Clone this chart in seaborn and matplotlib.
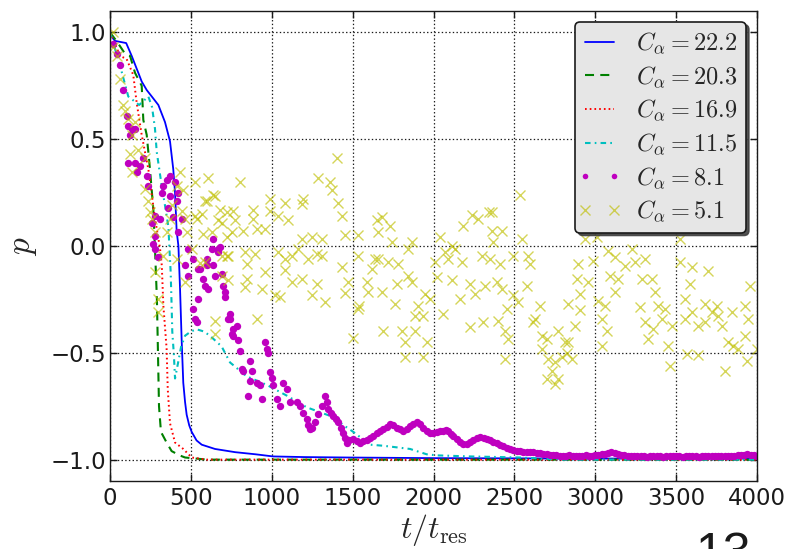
import matplotlib
matplotlib.use("Agg")
import matplotlib.pyplot as plt
from matplotlib.lines import Line2D
from matplotlib.legend_handler import HandlerLine2D
import seaborn as sns
import pandas as pd

# ---------------- data ----------------
labels = [r"$C_\alpha=22.2$", r"$C_\alpha=20.3$", r"$C_\alpha=16.9$",
          r"$C_\alpha=11.5$", r"$C_\alpha=8.1$", r"$C_\alpha=5.1$"]

t_a = [0, 20, 31, 100, 134, 165, 196, 227, 258, 299, 340, 371, 391, 402, 412, 423,
       433, 443, 453, 464, 474, 490, 505, 535, 567, 649, 773, 900, 1008, 1200, 1463,
       2000, 3000, 4000]
p_a = [1.0, 0.97, 0.96, 0.95, 0.89, 0.83, 0.77, 0.73, 0.70, 0.66, 0.58, 0.49, 0.36,
       0.25, 0.07, 0.0, -0.2, -0.44, -0.64, -0.73, -0.79, -0.84, -0.87, -0.91, -0.93,
       -0.95, -0.965, -0.975, -0.985, -0.988, -0.99, -0.993, -0.995, -0.995]

t_b = [0, 40, 93, 124, 155, 196, 206, 227, 247, 268, 278, 290, 295, 303, 315, 350,
       381, 430, 464, 600, 4000]
p_b = [1.0, 0.96, 0.90, 0.89, 0.81, 0.75, 0.59, 0.52, 0.36, 0.17, -0.01, -0.25,
       -0.44, -0.75, -0.87, -0.92, -0.96, -0.98, -0.99, -1.0, -1.0]

t_c = [0, 62, 103, 144, 165, 196, 237, 258, 278, 309, 320, 330, 350, 357, 371, 402,
       453, 505, 600, 4000]
p_c = [1.0, 0.89, 0.875, 0.80, 0.67, 0.52, 0.36, 0.24, 0.13, -0.01, -0.09, -0.28,
       -0.48, -0.67, -0.83, -0.92, -0.95, -0.99, -1.0, -1.0]

t_d = [0, 60, 113, 180, 237, 260, 278, 289, 320, 340, 361, 370, 375, 381, 385, 395,
       402, 420, 440, 464, 500, 536, 580, 618, 690, 742, 845, 969, 1092, 1216, 1360,
       1504, 1607, 1690, 1855, 1958, 2020, 2226, 2535, 2800, 4000]
p_d = [1.0, 0.85, 0.70, 0.66, 0.70, 0.65, 0.55, 0.44, 0.28, 0.19, 0.09, -0.05, -0.12,
       -0.28, -0.40, -0.51, -0.62, -0.55, -0.47, -0.42, -0.40, -0.39, -0.40, -0.42,
       -0.47, -0.545, -0.61, -0.65, -0.70, -0.755, -0.795, -0.87, -0.93, -0.935, -0.95,
       -0.975, -0.98, -0.985, -0.99, -1.0, -1.0]

t_e = [21, 41, 62, 82, 103, 113, 113, 124, 134, 155, 155, 165, 185, 206, 227, 237, 258,
       268, 278, 278, 278, 299, 309, 320, 330, 350, 361, 371, 371, 391, 402, 412, 423,
       423, 443, 464, 484, 484, 515, 515, 525, 536, 546, 546, 556, 577, 587, 598, 598,
       608, 628, 639, 639, 649, 670, 670, 680, 690, 700, 711, 711, 731, 742, 742, 752,
       762, 762, 783, 793, 804, 814, 824, 855, 866, 866, 876, 907, 927, 938, 958, 969,
       979, 989, 999, 1010, 1030, 1051, 1072, 1092, 1113, 1154, 1175, 1195, 1216, 1226,
       1237, 1250, 1267, 1288, 1309, 1329,
       1340, 1350, 1365, 1381, 1395, 1412, 1427, 1442, 1455, 1463, 1480, 1504, 1525,
       1546, 1565, 1587, 1607, 1628, 1649, 1669, 1690, 1710, 1731, 1750, 1772, 1793,
       1814, 1835, 1855, 1875, 1896, 1916, 1937, 1958, 1978, 1999, 2020, 2040, 2061,
       2075, 2092, 2110, 2123, 2145, 2164, 2185, 2205, 2226, 2247, 2268, 2288, 2310,
       2329, 2350, 2370, 2391, 2412, 2432, 2453, 2474, 2494, 2515, 2535, 2556, 2576,
       2597, 2617, 2638, 2660, 2680, 2700, 2720, 2740, 2760, 2780, 2800, 2820, 2840,
       2860, 2880, 2900, 2920, 2940, 2960, 2980, 3000, 3020, 3040, 3060, 3080, 3100,
       3120, 3140, 3160, 3180, 3200, 3220, 3240, 3260, 3280, 3300, 3320, 3340, 3360,
       3380, 3400, 3420, 3440, 3460, 3480, 3500, 3520, 3540, 3560, 3580, 3600, 3620,
       3640, 3660, 3680, 3700, 3720, 3740, 3760, 3780, 3800, 3820, 3840, 3860, 3880,
       3900, 3920, 3940, 3960, 3980, 4000]
p_e = [0.946, 0.90, 0.845, 0.73, 0.61, 0.56, 0.39, 0.52, 0.55, 0.55, 0.39, 0.345, 0.376,
       0.41, 0.33, 0.28, 0.11, 0.01, 0.14, 0.048, -0.014, -0.053, 0.126, 0.25, 0.28,
       0.31, 0.18, 0.33, 0.235, 0.134, 0.30, 0.21, 0.25, 0.064, 0.126, -0.09, -0.014,
       -0.14, -0.06, -0.295, -0.34, -0.357, -0.108, -0.248, -0.108, -0.155, -0.186,
       -0.06, -0.09, -0.20, -0.014, 0.033, -0.09, -0.14, -0.014, -0.03, -0.006, -0.13,
       -0.186, -0.217, -0.24, -0.34, -0.32, -0.34, -0.41, -0.39, -0.42, -0.373, -0.44,
       -0.49, -0.576, -0.584, -0.70, -0.537, -0.63, -0.584, -0.64, -0.65, -0.717, -0.45,
       -0.48, -0.50, -0.59, -0.62, -0.65, -0.717, -0.75, -0.64, -0.67, -0.73, -0.73,
       -0.75, -0.78, -0.81, -0.84, -0.857, -0.85, -0.826, -0.787, -0.75, -0.70,
       -0.73, -0.763, -0.78, -0.795, -0.81, -0.826, -0.85, -0.873, -0.90, -0.92, -0.91,
       -0.904, -0.915, -0.92, -0.915, -0.91, -0.90, -0.888, -0.875, -0.865, -0.857,
       -0.845, -0.834, -0.84, -0.85, -0.857, -0.865, -0.855, -0.842, -0.835, -0.826,
       -0.835, -0.85, -0.865, -0.873, -0.873, -0.87, -0.868, -0.865, -0.86, -0.865,
       -0.878, -0.888, -0.905, -0.918, -0.925, -0.925, -0.918, -0.91, -0.90, -0.896,
       -0.90, -0.904, -0.91, -0.918, -0.924, -0.932, -0.938, -0.945, -0.95, -0.955,
       -0.958, -0.96, -0.962, -0.964, -0.966, -0.966, -0.968, -0.97, -0.972, -0.974,
       -0.976, -0.978, -0.98, -0.982, -0.982, -0.983, -0.98, -0.983, -0.982, -0.984,
       -0.982, -0.98, -0.983, -0.982, -0.98, -0.978, -0.975, -0.972, -0.968, -0.966,
       -0.97, -0.975, -0.978, -0.98, -0.982, -0.983, -0.984, -0.982, -0.985, -0.984,
       -0.986, -0.984, -0.985, -0.983, -0.985, -0.986, -0.984, -0.985, -0.983, -0.985,
       -0.984, -0.986, -0.985, -0.983, -0.985, -0.984, -0.986, -0.984, -0.985, -0.983,
       -0.984, -0.985, -0.983, -0.984, -0.982, -0.984, -0.983, -0.981, -0.98, -0.978,
       -0.976, -0.975, -0.978, -0.98, -0.981]

t_f = [20, 21, 41, 62, 82, 93, 113, 124, 134, 134, 155, 175, 216, 216, 237, 247, 258,
       278, 278, 299, 299, 330, 350, 371, 381, 412, 412, 433, 443, 453, 464, 464, 474,
       505, 525, 525, 536, 556, 567, 577, 587, 587, 598, 608, 628, 639, 649, 649, 649,
       670, 680, 690, 690, 690, 721, 721, 721, 731, 731, 752, 762, 773, 804, 824, 835,
       835, 845, 845, 886, 886, 896, 907, 907, 938, 958, 958, 989, 989, 1020, 1041,
       1041, 1051, 1082, 1082, 1082, 1103, 1123, 1123, 1164, 1185, 1185, 1185, 1195,
       1226, 1247, 1247, 1278, 1278, 1288, 1309, 1309, 1329, 1360, 1370, 1401, 1412,
       1432, 1432, 1453, 1453, 1473, 1504, 1535, 1535, 1535, 1540, 1587, 1597, 1618,
       1638, 1649, 1659, 1659, 1680, 1680, 1690, 1721, 1731, 1742, 1762, 1773, 1783,
       1803, 1824, 1824, 1845, 1845, 1865, 1865, 1886, 1886, 1907, 1937, 1937, 1948,
       1958, 1978, 2010, 2020, 2040, 2061, 2071, 2092, 2113, 2113, 2133, 2164, 2175,
       2185, 2226, 2226, 2238, 2257, 2277, 2298, 2308, 2318, 2343, 2350, 2360, 2360,
       2370, 2391, 2401, 2411, 2422, 2422, 2442, 2442, 2453, 2463, 2494, 2494, 2525,
       2535, 2545, 2576, 2586, 2597, 2617, 2628, 2659, 2669, 2669, 2700, 2700, 2710,
       2731, 2751, 2751, 2772, 2772, 2792, 2813, 2823, 2834, 2834, 2854, 2875, 2885,
       2895, 2906, 2906, 2937, 2957, 2988, 3009, 3019, 3040, 3040, 3060, 3071, 3081,
       3091, 3122, 3122, 3143, 3184, 3225, 3246, 3277, 3287, 3308, 3308, 3328, 3349,
       3359, 3369, 3390, 3411, 3431, 3452, 3462, 3472, 3524, 3524, 3555, 3555, 3565,
       3586, 3596, 3596, 3637, 3637, 3678, 3678, 3699, 3720, 3751, 3761, 3782, 3802,
       3823, 3844, 3854, 3885, 3926, 3926, 3937, 3947, 3957, 4000]
p_f = [1.0, 0.93, 0.89, 0.78, 0.66, 0.63, 0.595, 0.43, 0.52, 0.345, 0.58, 0.45, 0.41,
       0.267, 0.21, 0.158, 0.126, 0.064, -0.12, -0.25, -0.31, -0.045, 0.064, 0.126,
       0.19, 0.28, -0.06, 0.345, 0.165, 0.26, 0.126, -0.17, 0.064, -0.014, 0.30, 0.14,
       0.126, -0.08, 0.15, 0.056, 0.21, -0.077, 0.21, 0.32, 0.064, 0.24, 0.235, -0.35,
       -0.41, 0.12, 0.17, 0.11, -0.045, -0.14, 0.158, 0.04, -0.045, -0.045, -0.16,
       0.064, 0.165, 0.12, 0.30, 0.07, -0.03, -0.19, -0.084, -0.155, 0.17, 0.126,
       -0.037, 0.08, -0.34, -0.20, 0.08, -0.12, 0.22, 0.165, -0.23, 0.14, -0.03, -0.24,
       0.20, -0.06, -0.11, 0.12, -0.045, -0.17, -0.014, 0.197, 0.033, -0.155, 0.22,
       -0.06, 0.04, -0.23, -0.037, -0.178, 0.32, 0.033, -0.045, -0.26, 0.30, 0.26, 0.41,
       0.20, 0.14, -0.10, 0.05, -0.22, -0.17, -0.43, 0.05, -0.045, -0.295, -0.28, -0.17,
       -0.217, -0.108, -0.06, 0.12, 0.064, -0.06, 0.134, -0.217, -0.397, -0.077, 0.095,
       0.017, -0.27, -0.178, -0.084, -0.40, -0.45, -0.52, -0.014, -0.14, 0.017, -0.17,
       -0.326, -0.397, -0.28, -0.326, -0.52, -0.225, -0.45, -0.248, -0.077, -0.147,
       0.04, -0.32, -0.03, -0.06, 0.001, -0.16, -0.014, -0.25, -0.077, 0.095, -0.18,
       -0.38, 0.145, -0.225, 0.126, -0.045, -0.357, -0.186, 0.16, -0.06, 0.158, 0.07,
       0.017, -0.17, -0.35, -0.084, 0.07, -0.20, -0.397, -0.53, -0.295, -0.436, -0.045,
       -0.23, -0.26, 0.24, 0.033, -0.186, -0.045, -0.084, -0.357, -0.34, -0.28, -0.42,
       -0.48, -0.436, -0.623, -0.53, -0.584, -0.545, -0.646, -0.397, -0.623, -0.52,
       -0.45, -0.50, -0.27, -0.45, -0.53, -0.373, -0.155, -0.084, -0.225, -0.30, 0.033,
       -0.17, -0.069, 0.04, -0.256, -0.34, -0.47, -0.28, -0.40, -0.022, -0.14, -0.053,
       -0.217, -0.155, -0.092, -0.014, -0.077, -0.287, -0.155, -0.06, -0.357, -0.436,
       -0.155, -0.39, -0.217, -0.28, -0.34, -0.295, -0.467, -0.56, -0.373, 0.033,
       -0.077, -0.248, -0.34, -0.506, -0.178, -0.10, -0.31, -0.373, -0.51, -0.357,
       -0.27, -0.115, -0.31, -0.28, -0.326, -0.373, -0.584, -0.45, -0.31, -0.467, -0.48,
       -0.42, -0.28, -0.537, -0.34, -0.186, -0.48]

x_ticks = [0, 500, 1000, 1500, 2000, 2500, 3000, 3500, 4000]
y_ticks = [-1.0, -0.5, 0.0, 0.5, 1.0]

# ---------------- style ----------------
sns.set_theme(style="white")
plt.rcParams.update({
    "font.family": ["DejaVu Sans"],
    "mathtext.fontset": "cm",
    "lines.scale_dashes": False,
    "axes.unicode_minus": True,
})

fig = plt.figure(figsize=(7.95, 5.49), dpi=100)
W, H = 795, 549
ax = fig.add_axes([110 / W, 1 - 481 / H, (757 - 110) / W, (481 - 11) / H])

series = [
    (t_a, p_a, dict(color="#0000ff", linestyle="-", linewidth=1.3)),
    (t_b, p_b, dict(color="#008000", linestyle=(0, (6.5, 4.5)), linewidth=1.5)),
    (t_c, p_c, dict(color="#ff0000", linestyle=(0, (1.2, 2.2)), linewidth=1.4)),
    (t_d, p_d, dict(color="#00bfbf", linestyle=(0, (4, 3, 1.2, 3)), linewidth=1.5)),
    (t_e, p_e, dict(color="#bf00bf", linestyle="none", marker="o", markersize=5.3,
                    markeredgewidth=0, markerfacecolor="#bf00bf")),
    (t_f, p_f, dict(color="#bfbf00", linestyle="none", marker="x", markersize=7.5,
                    markeredgewidth=1.0, markeredgecolor="#bfbf00", alpha=0.65)),
]
for (tt, pp, kw), lab in zip(series, labels):
    df = pd.DataFrame({"t": tt, "p": pp})
    sns.lineplot(data=df, x="t", y="p", ax=ax, estimator=None, sort=False,
                 label=lab, **kw)

ax.set_xlim(0, 4000)
ax.set_ylim(-1.1, 1.1)
ax.set_xticks(x_ticks)
ax.set_yticks(y_ticks)
ax.grid(True, color="k", linestyle=":", linewidth=0.9)
ax.set_axisbelow(True)
for s in ax.spines.values():
    s.set_color("k")
    s.set_linewidth(1.0)
ax.tick_params(direction="in", length=5, width=1, colors="k", labelsize=16.5,
               top=True, right=True, bottom=True, left=True, pad=4)
ax.tick_params(axis="y", pad=3)

ax.set_xlabel(r"$t/t_{\rm res}$", fontsize=23, labelpad=2)
ax.set_ylabel(r"$p$", fontsize=24, labelpad=8)

leg = ax.legend(loc="upper right", numpoints=2, fontsize=17.5, handlelength=1.3,
                handletextpad=0.85, labelspacing=0.33, borderpad=0.35,
                borderaxespad=0.45, fancybox=True,
                shadow={"color": "0.25", "alpha": 0.9}, framealpha=1,
                facecolor="#e6e6e6", edgecolor="k",
                handler_map={Line2D: HandlerLine2D(marker_pad=0.05)})
leg.get_frame().set_linewidth(1.2)
for line in leg.get_lines():
    if line.get_marker() == "o":
        line.set_markersize(4)

fig.text(695 / W, 1 - 568 / H, "13", fontsize=36, family="Liberation Sans",
         ha="left", va="baseline", color="k")

fig.savefig("out.png", dpi=100)
